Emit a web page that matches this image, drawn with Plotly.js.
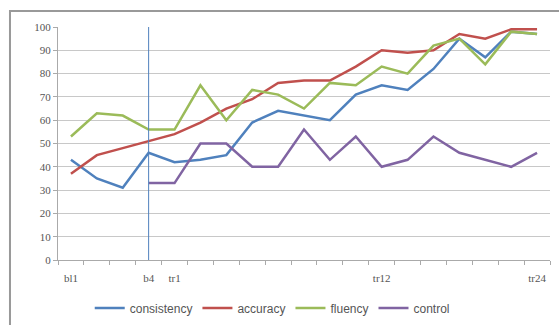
<!DOCTYPE html>
<html>
<head>
<meta charset="utf-8">
<script src="https://cdn.plot.ly/plotly-3.0.1.min.js"></script>
<style>html,body{margin:0;padding:0;background:#fff}#chart{width:559px;height:325px}</style>
</head>
<body>
<div id="chart"></div>
<script>
var categories = ["bl1","bl2","bl3","b4","tr1","tr2","tr3","tr4","tr5","tr6","tr7","tr8","tr12","tr13","tr14","tr15","tr16","tr17","tr24"];
var tickLabels = ["bl1","","","b4","tr1","","","","","","","","tr12","","","","","","tr24"];
var consistency = [43,35,31,46,42,43,45,59,64,62,60,71,75,73,82,95,87,98,97];
var accuracy    = [37,45,48,51,54,59,65,69,76,77,77,83,90,89,90,97,95,99,99];
var fluency     = [53,63,62,56,56,75,60,73,71,65,76,75,83,80,92,95,84,98,97];
var control     = [null,null,null,33,33,50,50,40,40,56,43,53,40,43,53,46,43,40,46];
var dividerIndex = 3;

var idx = categories.map(function(_, i){ return i; });
function tr(name, y, color){
  return {x: idx, y: y, name: name, type: 'scatter', mode: 'lines',
          line: {color: color, width: 2.5}, connectgaps: false};
}
var data = [
  tr('consistency', consistency, '#4F81BD'),
  tr('accuracy', accuracy, '#C0504D'),
  tr('fluency', fluency, '#9BBB59'),
  tr('control', control, '#8064A2')
];
var layout = {
  width: 559, height: 325,
  margin: {l: 58, r: 9, t: 27, b: 65},
  paper_bgcolor: '#fff', plot_bgcolor: '#fff',
  font: {family: 'Liberation Serif, DejaVu Serif, serif', size: 11, color: '#555'},
  showlegend: true,
  legend: {orientation: 'h', x: 0.487, xanchor: 'center', xref: 'container', y: 0.052, yref: 'container', yanchor: 'middle',
           font: {family: 'Liberation Sans, Arial, sans-serif', size: 12, color: '#555'}, traceorder: 'normal', itemwidth: 30},
  xaxis: {
    range: [-0.5, 18.5], tickmode: 'array', tickvals: idx, ticktext: tickLabels,
    ticks: 'outside', ticklen: 8, tickcolor: 'rgba(0,0,0,0)',
    showgrid: false, zeroline: false, showline: true, linecolor: '#aaa', linewidth: 1,
    minor: {tickmode: 'linear', tick0: -0.5, dtick: 1, ticks: 'outside', ticklen: 4, tickcolor: '#aaa', showgrid: false},
    tickfont: {size: 11, color: '#555'}, fixedrange: true
  },
  yaxis: {
    range: [0, 100], dtick: 10, tick0: 0, ticks: 'outside', ticklen: 4, tickcolor: '#aaa',
    showgrid: true, gridcolor: '#c8c8c8', gridwidth: 1, zeroline: false,
    showline: true, linecolor: '#aaa', linewidth: 1,
    tickfont: {size: 11, color: '#555'}, fixedrange: true
  },
  shapes: [
    {type: 'line', xref: 'x', yref: 'y', x0: dividerIndex, x1: dividerIndex, y0: 0, y1: 100,
     line: {color: '#4F81BD', width: 1}},
    {type: 'rect', xref: 'paper', yref: 'paper', x0: -0.0976, x1: 1.05, y0: -0.4, y1: 1.0687,
     line: {color: '#999', width: 2}, fillcolor: 'rgba(0,0,0,0)', layer: 'above'}
  ]
};
Plotly.newPlot('chart', data, layout, {displayModeBar: false, staticPlot: true});
</script>
</body>
</html>
